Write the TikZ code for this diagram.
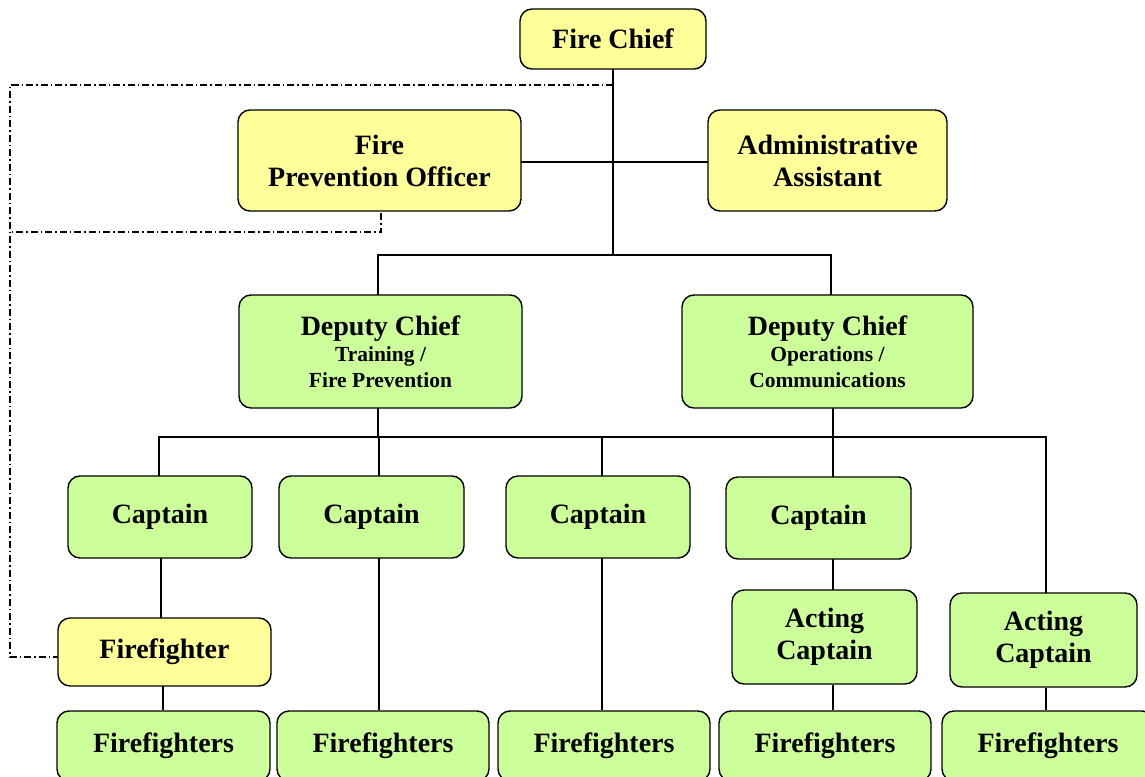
\documentclass[tikz,border=0pt]{standalone}
\usepackage{fontspec}
\setmainfont{Liberation Serif}
\definecolor{yellowfill}{RGB}{255,255,153}
\definecolor{greenfill}{RGB}{204,255,153}
\begin{document}
\begin{tikzpicture}[x=1pt,y=-1pt,
  box/.style={draw=black, line width=1.4pt, rounded corners=12pt, align=center,
    font=\bfseries\fontsize{28}{32}\selectfont, inner sep=0pt},
  yel/.style={box, fill=yellowfill},
  grn/.style={box, fill=greenfill},
  conn/.style={line width=1.3pt},
  dd/.style={line width=1.1pt, dash pattern=on 7pt off 3pt on 1.5pt off 3pt}]
\useasboundingbox (0,0) rectangle (1145,776);
\clip (0,0) rectangle (1145,776);

% junction coordinates
\coordinate (dtop) at (613,85);
\coordinate (dleft) at (10,85);
\coordinate (j1) at (613,255);
\coordinate (j2) at (378,437);
\coordinate (x2) at (379,0);
\coordinate (x3) at (602,0);
\coordinate (x4) at (833,0);
\coordinate (x5) at (1046,0);
\coordinate (fpod) at (381,232);
\coordinate (dbl) at (10,657);

% connectors (behind boxes)
\draw[dd] (dtop) -- (dleft) -- (dbl) -- (58,657);
\draw[dd] (381,213) -- (fpod) -- (10,232);
\draw[conn] (613,69) -- (j1);
\draw[conn] (521,162) -- (708,162);
\draw[conn] (378,295) |- (j1) -| (831,295);
\draw[conn] (j2 |- 0,408) -- (j2);
\draw[conn] (159,476) |- (j2) -| (x5 |- 0,594);
\draw[conn] (x2 |- 0,437) -- (x2 |- 0,476);
\draw[conn] (x3 |- 0,437) -- (x3 |- 0,476);
\draw[conn] (x4 |- 0,408) -- (x4 |- 0,477);
\draw[conn] (161,558) -- (161,618);
\draw[conn] (163,686) -- (163,710);
\draw[conn] (x2 |- 0,558) -- (x2 |- 0,710);
\draw[conn] (x3 |- 0,558) -- (x3 |- 0,710);
\draw[conn] (x4 |- 0,559) -- (x4 |- 0,591);
\draw[conn] (x4 |- 0,685) -- (x4 |- 0,710);
\draw[conn] (x5 |- 0,688) -- (x5 |- 0,710);

% boxes
\node[yel, minimum width=186pt, minimum height=60pt] (chief) at (613,39) {Fire Chief};
\node[yel, minimum width=283pt, minimum height=101pt] (fpo) at (379.5,160.5) {Fire\\Prevention Officer};
\node[yel, minimum width=239pt, minimum height=101pt] (admin) at (827.5,160.5) {Administrative\\Assistant};
\node[grn, minimum width=283pt, minimum height=113pt] (dct) at (380.5,351.5)
  {Deputy Chief\\[-6pt]\fontsize{21.5}{25}\selectfont Training /\\[-6pt]\fontsize{21.5}{25}\selectfont Fire Prevention};
\node[grn, minimum width=291pt, minimum height=113pt] (dco) at (827.5,351.5)
  {Deputy Chief\\[-6pt]\fontsize{21.5}{25}\selectfont Operations /\\[-6pt]\fontsize{21.5}{25}\selectfont Communications};
\node[grn, minimum width=184pt, minimum height=82pt] (cap1) at (160,517) {Captain};
\node[grn, minimum width=185pt, minimum height=82pt] (cap2) at (371.5,517) {Captain};
\node[grn, minimum width=184pt, minimum height=82pt] (cap3) at (598,517) {Captain};
\node[grn, minimum width=185pt, minimum height=82pt] (cap4) at (818.5,518) {Captain};
\node[yel, minimum width=213pt, minimum height=68pt] (ffy) at (164.5,652) {Firefighter};
\node[grn, minimum width=185pt, minimum height=94pt] (ac1) at (824.5,637) {Acting\\Captain};
\node[grn, minimum width=187pt, minimum height=94pt] (ac2) at (1043.5,640) {Acting\\Captain};
\node[grn, minimum width=213pt, minimum height=70pt] (ff1) at (163.5,746) {Firefighters};
\node[grn, minimum width=212pt, minimum height=70pt] (ff2) at (383,746) {Firefighters};
\node[grn, minimum width=212pt, minimum height=70pt] (ff3) at (604,746) {Firefighters};
\node[grn, minimum width=212pt, minimum height=70pt] (ff4) at (825,746) {Firefighters};
\node[grn, minimum width=212pt, minimum height=70pt] (ff5) at (1048,746) {Firefighters};
\end{tikzpicture}
\end{document}
